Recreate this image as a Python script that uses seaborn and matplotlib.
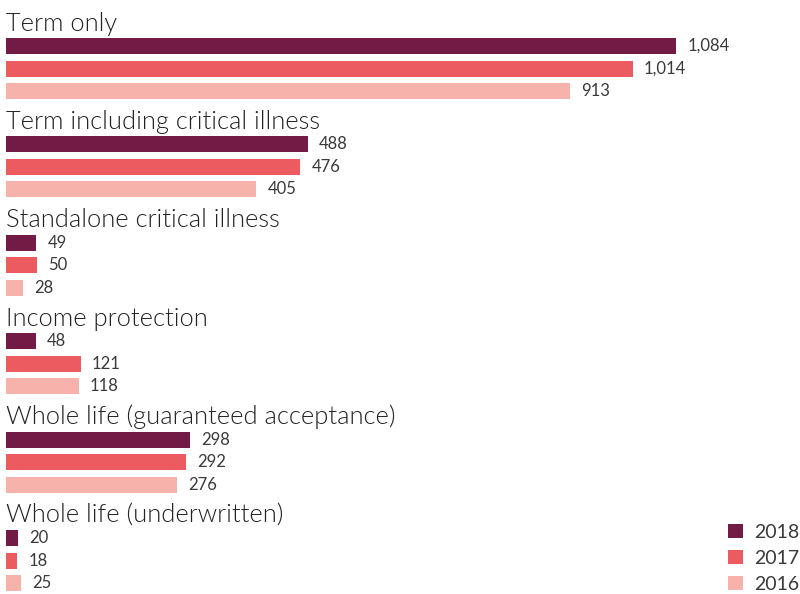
import matplotlib
matplotlib.use("Agg")
import matplotlib.pyplot as plt
import seaborn as sns
import pandas as pd

categories = [
    "Term only",
    "Term including critical illness",
    "Standalone critical illness",
    "Income protection",
    "Whole life (guaranteed acceptance)",
    "Whole life (underwritten)",
]
years = ["2018", "2017", "2016"]
values_2018 = [1084, 488, 49, 48, 298, 20]
values_2017 = [1014, 476, 50, 121, 292, 18]
values_2016 = [913, 405, 28, 118, 276, 25]
palette = {"2018": "#721c45", "2017": "#ec5b60", "2016": "#f7b3ab"}

# layout in pixel-like units on the y axis
GROUP_TOP = 46.0
GROUP_PITCH = 98.4
BAR_PITCH = 22.5
BAR_HEIGHT = 16.0
TITLE_OFFSET = 22.5

series = {"2018": values_2018, "2017": values_2017, "2016": values_2016}
rows = []
for g, cat in enumerate(categories):
    for k, yr in enumerate(years):
        rows.append({
            "category": cat,
            "year": yr,
            "value": series[yr][g],
            "ypos": GROUP_TOP + GROUP_PITCH * g + BAR_PITCH * k,
        })
df = pd.DataFrame(rows)

sns.set_theme(style="white")
plt.rcParams["font.family"] = ["Lato", "DejaVu Sans"]

fig = plt.figure(figsize=(8.0, 5.94), dpi=100)
ax = fig.add_axes([0, 0, 1, 1])

# with native_scale the width is relative to the smallest gap between rows
sns.barplot(
    data=df, x="value", y="ypos", hue="year", hue_order=years,
    palette=palette, orient="h", native_scale=True, dodge=False,
    width=BAR_HEIGHT / BAR_PITCH, ax=ax, legend=True, saturation=1,
    linewidth=0,
)

for cont in ax.containers:
    ax.bar_label(cont, fmt="{:,.0f}", padding=8, fontsize=12,
                 color="#3a3a3a")

for g, cat in enumerate(categories):
    ax.text(0, GROUP_TOP + GROUP_PITCH * g - TITLE_OFFSET, cat,
            fontsize=18.3, color="#222222", va="center", ha="left",
            fontweight=300)

px_per_unit = 670 / 1084
ax.set_xlim(-6 / px_per_unit, (800 - 6) / px_per_unit)
ax.set_ylim(594, 0)
ax.axis("off")

leg = ax.legend(loc="lower right", bbox_to_anchor=(1.012, -0.014), frameon=False,
                handlelength=0.75, handleheight=0.75,
                handletextpad=0.6, labelspacing=0.45, borderaxespad=0.1,
                prop={"size": 14})
for t in leg.get_texts():
    t.set_color("#3a3a3a")

fig.savefig("out.png", dpi=100)
